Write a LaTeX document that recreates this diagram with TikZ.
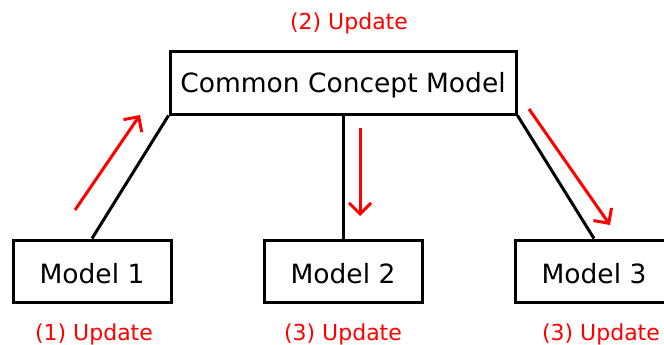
\documentclass[tikz,border=0pt]{standalone}
\usepackage{fontspec}
\setmainfont{DejaVu Sans}
\usetikzlibrary{arrows.meta}
\begin{document}
\begin{tikzpicture}[x=1pt,y=-1pt,
  box/.style={draw=black,line width=3pt,rectangle,inner sep=0pt,minimum height=62pt},
  boxtext/.style={font=\fontsize{26.5}{30}\selectfont,inner sep=0pt},
  link/.style={draw=black,line width=3pt},
  upd/.style={draw=red,line width=3pt,-{Straight Barb[length=11pt,width=22pt,line width=3pt]}},
  lbl/.style={text=red,font=\fontsize{22}{26}\selectfont,inner sep=0pt}]
\useasboundingbox (0,0) rectangle (664,345);
\node[box,minimum width=346pt] (ccm) at (343,83) {};
\node[box,minimum width=158pt] (m1) at (92,271) {};
\node[box,minimum width=158pt] (m2) at (343,271) {};
\node[box,minimum width=158pt] (m3) at (594,271) {};
\node[boxtext] (tccm) at ([yshift=-2.5pt]ccm.center) {Common Concept Model};
\node[boxtext] (tm1) at ([yshift=-2.5pt]m1.center) {Model 1};
\node[boxtext] (tm2) at ([yshift=-2.5pt]m2.center) {Model 2};
\node[boxtext] (tm3) at ([yshift=-2.5pt]m3.center) {Model 3};
\draw[link] (ccm.south west) -- (m1.north);
\draw[link] (ccm.south) -- (m2.north);
\draw[link] (ccm.south east) -- (m3.north);
\coordinate (a1s) at (75,210); \coordinate (a1e) at (140,115);
\coordinate (a2s) at (360,128); \coordinate (a2e) at (360,216);
\coordinate (a3s) at (529,109); \coordinate (a3e) at (610,225);
\draw[upd] (a1s) -- (a1e);
\draw[upd] (a2s) -- (a2e);
\draw[upd] (a3s) -- (a3e);
\node[lbl] (l2) at (349,23.5) {(2) Update};
\node[lbl] (l1) at (94,334) {(1) Update};
\node[lbl] (l3a) at (343,334) {(3) Update};
\node[lbl] (l3b) at (601,334) {(3) Update};
\end{tikzpicture}
\end{document}
